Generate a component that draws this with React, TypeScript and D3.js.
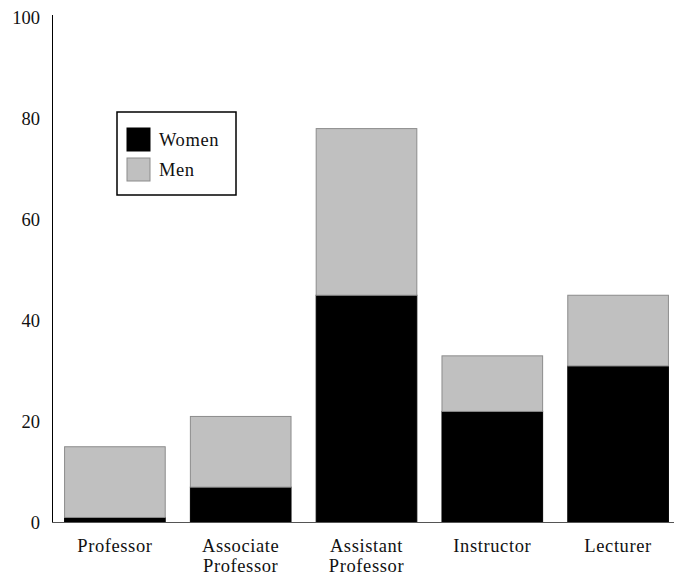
import React from 'react';
import * as d3 from 'd3';

const categories = ['Professor', 'Associate\nProfessor', 'Assistant\nProfessor', 'Instructor', 'Lecturer'];
const women = [1, 7, 45, 22, 31];
const men = [14, 14, 33, 11, 14];
const yTicks = [0, 20, 40, 60, 80, 100];
const seriesNames = ['Women', 'Men'];

const width = 674;
const height = 576;
const font = '"Liberation Serif", serif';

export default function App() {
    const x = d3.scaleBand<string>()
        .domain(categories)
        .range([52, 681])
        .paddingInner(0.2)
        .paddingOuter(0.1);
    const y = d3.scaleLinear().domain([0, 100]).range([522.5, 17.5]);

    const rows = categories.map((c, i) => ({ key: c, Women: women[i], Men: men[i] }));
    const stacked = d3.stack<any>().keys(seriesNames)(rows);
    const fills: Record<string, string> = { Women: '#000', Men: '#c0c0c0' };
    const strokes: Record<string, string> = { Women: '#000', Men: '#8c8c8c' };

    return (
        <svg width={width} height={height} style={{ position: 'absolute', left: 0, top: 0 }}>
            <rect width={width} height={height} fill="#fff" />
            {stacked.map(s => (
                <g key={s.key}>
                    {s.map((d, i) => (
                        <rect key={i}
                            x={x(categories[i])}
                            y={y(d[1])}
                            width={x.bandwidth()}
                            height={y(d[0]) - y(d[1])}
                            fill={fills[s.key]}
                            stroke={strokes[s.key]}
                            strokeWidth={1} />
                    ))}
                </g>
            ))}
            <line x1={52.5} x2={52.5} y1={15} y2={523} stroke="#000" />
            <line x1={52} x2={674} y1={522.5} y2={522.5} stroke="#555" />
            {yTicks.map(t => (
                <text key={t} x={40} y={y(t)} dy="0.35em" textAnchor="end"
                    fontFamily={font} fontSize={18.5} fill="#111">{t}</text>
            ))}
            {categories.map(c => (
                <text key={c} x={(x(c) ?? 0) + x.bandwidth() / 2} y={552} textAnchor="middle"
                    fontFamily={font} fontSize={18.5} letterSpacing={0.6} fill="#111">
                    {c.split('\n').map((line, j) => (
                        <tspan key={j} x={(x(c) ?? 0) + x.bandwidth() / 2} dy={j === 0 ? 0 : 20}>{line}</tspan>
                    ))}
                </text>
            ))}
            <g transform="translate(117,112)">
                <rect width={119} height={83} fill="#fff" stroke="#000" strokeWidth={1.5} />
                {seriesNames.map((n, i) => (
                    <g key={n} transform={`translate(10,${16 + i * 30})`}>
                        <rect width={23} height={23} fill={fills[n]} stroke={strokes[n]} />
                        <text x={32} y={12} dy="0.35em" fontFamily={font} fontSize={18.5}
                            letterSpacing={0.6} fill="#111">{n}</text>
                    </g>
                ))}
            </g>
        </svg>
    );
}
